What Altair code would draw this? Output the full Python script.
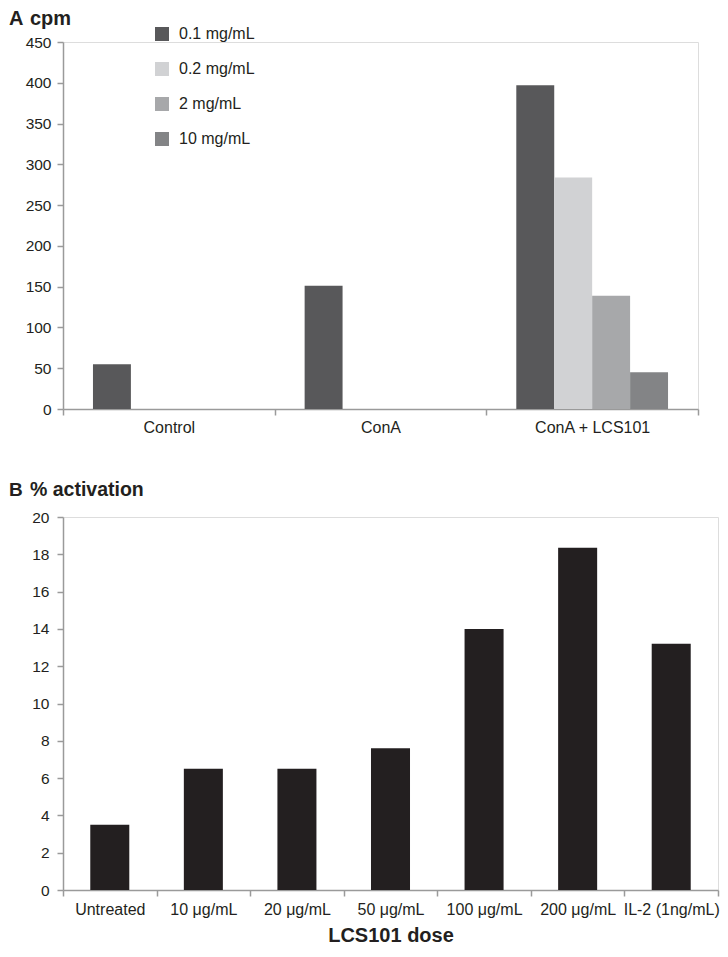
import altair as alt
import pandas as pd

# ---- Panel A data ----
groups = ["Control", "ConA", "ConA + LCS101"]
doses = ["0.1 mg/mL", "0.2 mg/mL", "2 mg/mL", "10 mg/mL"]
cpm_01 = [55, 151, 397]
cpm_02 = [None, None, 284]
cpm_2 = [None, None, 139]
cpm_10 = [None, None, 45]
dose_colors = ["#58585a", "#d1d2d4", "#a7a8aa", "#838486"]
a_ticks = [0, 50, 100, 150, 200, 250, 300, 350, 400, 450]

# ---- Panel B data ----
treatments = ["Untreated", "10 μg/mL", "20 μg/mL", "50 μg/mL",
              "100 μg/mL", "200 μg/mL", "IL-2 (1ng/mL)"]
activation = [3.5, 6.5, 6.5, 7.6, 14.0, 18.35, 13.2]
b_ticks = [0, 2, 4, 6, 8, 10, 12, 14, 16, 18, 20]

FONT = "Liberation Sans"
AXIS_GRAY = "#9a9a9a"
TEXT = "#231f20"

rows = []
for series, vals in zip(doses, [cpm_01, cpm_02, cpm_2, cpm_10]):
    for g, v in zip(groups, vals):
        if v is not None:
            rows.append({"group": g, "dose": series, "cpm": v})
dfa = pd.DataFrame(rows)
dfb = pd.DataFrame({"treatment": treatments, "activation": activation})

def x_axis(title=None, label_pad=3, **kw):
    return alt.Axis(title=title, labelAngle=0, tickBand="extent", labelFont=FONT,
                    labelFontSize=16, labelColor=TEXT, labelPadding=label_pad, tickSize=6,
                    tickColor=AXIS_GRAY, domainColor=AXIS_GRAY, domainWidth=1.5,
                    tickWidth=1.5, grid=False, **kw)

def y_axis(values, label_pad):
    return alt.Axis(title=None, values=values, labelFont=FONT, labelFontSize=15.5,
                    labelColor=TEXT, labelPadding=label_pad, tickSize=6, tickColor=AXIS_GRAY,
                    domainColor=AXIS_GRAY, domainWidth=1.5, tickWidth=1.5, grid=False)

def label_text(txt, x, y, size):
    return alt.Chart(pd.DataFrame({"t": [txt]})).mark_text(
        align="left", baseline="top", font=FONT, fontSize=size, fontWeight="bold",
        color=TEXT
    ).encode(text="t:N", x=alt.value(x), y=alt.value(y))

# ---- Panel A ----
bars_a = alt.Chart(dfa).mark_bar().encode(
    x=alt.X("group:N", sort=groups,
            scale=alt.Scale(domain=groups, paddingInner=0, paddingOuter=0),
            axis=x_axis(label_pad=4)),
    xOffset=alt.XOffset("dose:N", scale=alt.Scale(domain=doses, paddingInner=0,
                                                  paddingOuter=0.79)),
    y=alt.Y("cpm:Q", scale=alt.Scale(domain=[0, 450], nice=False),
            axis=y_axis(a_ticks, 6)),
    color=alt.Color("dose:N", scale=alt.Scale(domain=doses, range=dose_colors),
                    legend=alt.Legend(orient="none", legendX=91, legendY=-16, title=None,
                                      symbolType="square", symbolSize=196,
                                      symbolStrokeWidth=0, labelFont=FONT,
                                      labelFontSize=16, labelColor=TEXT,
                                      rowPadding=19, labelOffset=9)),
)

panel_a = alt.layer(
    bars_a, label_text("A", -54, -33, 20), label_text("cpm", -33, -33, 20)
).properties(width=635, height=367)

# ---- Panel B ----
bars_b = alt.Chart(dfb).mark_bar(width=alt.RelativeBandSize(0.417), color=TEXT).encode(
    x=alt.X("treatment:N", sort=treatments,
            scale=alt.Scale(domain=treatments, paddingInner=0, paddingOuter=0),
            axis=x_axis(title="LCS101 dose", label_pad=5, titleFont=FONT,
                        titleFontSize=20, titleFontWeight="bold", titleColor=TEXT,
                        titlePadding=8)),
    y=alt.Y("activation:Q", scale=alt.Scale(domain=[0, 20], nice=False),
            axis=y_axis(b_ticks, 8)),
)

panel_b = alt.layer(
    bars_b, label_text("B", -54, -36, 19), label_text("% activation", -33, -36, 19.5)
).properties(width=655, height=373)

chart = alt.vconcat(panel_a, panel_b, spacing=43).properties(
    padding=0
).configure_view(stroke=None).configure(background="white")

chart.save("out.html", embed_options={"renderer": "svg", "actions": False})
